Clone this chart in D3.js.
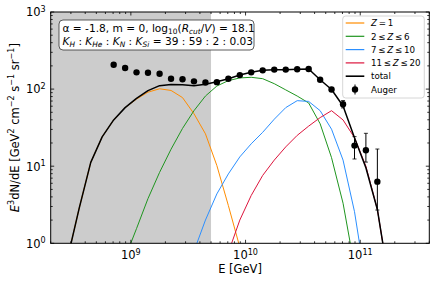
<!DOCTYPE html>
<html>
<head>
<meta charset="utf-8">
<script src="https://cdn.jsdelivr.net/npm/d3@7"></script>
<style>
  body { margin: 0; background: #fff; }
  svg { display: block; font-family: "DejaVu Sans", sans-serif; }
</style>
</head>
<body>
<div id="chart"></div>
<script>
// energy grid (GeV), bin centres at log10(E) = 8.45 ... 11.25
const energies = [2.82e8, 3.55e8, 4.47e8, 5.62e8, 7.08e8, 8.91e8, 1.12e9, 1.41e9, 1.78e9, 2.24e9,
    2.82e9, 3.55e9, 4.47e9, 5.62e9, 7.08e9, 8.91e9, 1.12e10, 1.41e10, 1.78e10, 2.24e10,
    2.82e10, 3.55e10, 4.47e10, 5.62e10, 7.08e10, 8.91e10, 1.12e11, 1.41e11, 1.78e11];

// model components, E^3 dN/dE  (null = not drawn)
const zH = [0.66, 2.88, 11.2, 24.0, 39.8, 57.5, 74.1, 91.2, 101, 96, 77.6, 47.9, 26.3, 10.2, 3.09, 0.89,
    null, null, null, null, null, null, null, null, null, null, null, null, null];
const zHeC = [null, null, null, null, null, 0.65, 1.55, 3.80, 8.32, 16.6, 30.9, 52.5, 81.3, 109.6, 128.8,
    139.6, 142.2, 136.5, 117.5, 97.7, 81.3, 66.1, 35.5, 12.9, 3.31, 0.50, null, null, null];
const zNNe = [null, null, null, null, null, null, null, null, null, null, null, 0.79, 2.0, 4.37, 7.94,
    13.2, 19.5, 27.5, 40.7, 57.5, 70.8, 69.2, 52.5, 30.2, 12.0, 2.57, 0.30, null, null];
const zNaCa = [null, null, null, null, null, null, null, null, null, null, null, null, null, null, 0.76,
    2.0, 4.17, 7.59, 12.0, 17.8, 25.1, 33.1, 42.7, 52.5, 39.8, 23.4, 10.0, 2.75, 0.32];
const total = [0.66, 2.88, 11.2, 24.0, 39.8, 57.5, 75.9, 95.5, 110.9, 114.8, 113.5, 110.9, 115.3, 124.5,
    136.5, 152.4, 165.2, 175.4, 178.6, 178.6, 180.7, 182.4, 132.4, 98.9, 60.3, 23.4, 9.55, 2.75, 0.32];

// Auger data
const augerE = [7.08e8, 8.91e8, 1.12e9, 1.41e9, 1.78e9, 2.24e9, 2.82e9, 3.55e9, 4.47e9, 5.62e9, 7.08e9, 8.91e9,
    1.12e10, 1.41e10, 1.78e10, 2.24e10, 2.82e10, 3.55e10, 4.47e10, 5.62e10, 7.08e10, 8.91e10, 1.12e11, 1.41e11];
const augerFlux = [207, 188, 165, 163, 158, 136, 134, 126, 122, 123, 136, 152, 165, 175, 179, 179, 181, 182,
    132, 99, 63.5, 18.5, 16.1, 6.3];
const augerLo = [203, 184, 162, 160, 155, 133, 131, 123, 119, 120, 133, 149, 162, 171, 175, 175, 177, 177,
    127, 93, 57, 12.4, 11.3, 2.7];
const augerHi = [211, 192, 168, 166, 161, 139, 137, 129, 125, 126, 139, 155, 168, 179, 183, 183, 185, 187,
    137, 105, 71, 24.2, 26.7, 16.7];

const xDomain = [2e8, 4e11];
const yDomain = [1, 1000];
const xMajor = [1e9, 1e10, 1e11];
const yMajor = [1, 10, 100, 1000];
const shadeEnd = 5e9;

const series = [
    { name: "Z = 1", data: zH, color: "#ff8c00", width: 1 },
    { name: "2 ≤ Z ≤ 6", data: zHeC, color: "#1f951f", width: 1 },
    { name: "7 ≤ Z ≤ 10", data: zNNe, color: "#2b8fff", width: 1 },
    { name: "11 ≤ Z ≤ 20", data: zNaCa, color: "#dc143c", width: 1 },
    { name: "total", data: total, color: "#000", width: 1.5 }
];

const W = 436, H = 284;
const margin = { top: 12, right: 6.7, bottom: 40.7, left: 50.7 };
const w = W - margin.left - margin.right;
const h = H - margin.top - margin.bottom;

const svg = d3.select("#chart").append("svg").attr("width", W).attr("height", H);
const g = svg.append("g").attr("transform", `translate(${margin.left},${margin.top})`);

const x = d3.scaleLog().domain(xDomain).range([0, w]);
const y = d3.scaleLog().domain(yDomain).range([h, 0]);

svg.append("defs").append("clipPath").attr("id", "clip")
    .append("rect").attr("width", w).attr("height", h);

// excluded region
g.append("rect")
    .attr("x", 0).attr("y", 0)
    .attr("width", x(shadeEnd)).attr("height", h)
    .attr("fill", "#cccccc");

const plot = g.append("g").attr("clip-path", "url(#clip)");

const line = d3.line()
    .defined(d => d[1] != null)
    .x(d => x(d[0]))
    .y(d => y(d[1]));

series.forEach(s => {
    plot.append("path")
        .datum(energies.map((e, i) => [e, s.data[i]]))
        .attr("fill", "none")
        .attr("stroke", s.color)
        .attr("stroke-width", s.width)
        .attr("stroke-linejoin", "round")
        .attr("d", line);
});

// Auger points
const auger = augerE.map((e, i) => ({ e: e, v: augerFlux[i], lo: augerLo[i], hi: augerHi[i] }));
const pts = plot.append("g");
pts.selectAll("line.err").data(auger).enter().append("line")
    .attr("x1", d => x(d.e)).attr("x2", d => x(d.e))
    .attr("y1", d => y(d.lo)).attr("y2", d => y(d.hi))
    .attr("stroke", "#000").attr("stroke-width", 1);
["lo", "hi"].forEach(k => {
    pts.selectAll("line.cap" + k).data(auger).enter().append("line")
        .attr("x1", d => x(d.e) - 2).attr("x2", d => x(d.e) + 2)
        .attr("y1", d => y(d[k])).attr("y2", d => y(d[k]))
        .attr("stroke", "#000").attr("stroke-width", 0.8);
});
pts.selectAll("circle").data(auger).enter().append("circle")
    .attr("cx", d => x(d.e)).attr("cy", d => y(d.v))
    .attr("r", 3.2).attr("fill", "#000");

// ticks on all four sides, pointing inward
function minorTicks(scale) {
    return scale.ticks().filter(t => {
        const m = t / Math.pow(10, Math.floor(Math.log10(t) + 1e-9));
        return Math.abs(m - 1) > 1e-6;
    });
}
const xMinor = minorTicks(x);
const yMinor = minorTicks(y);
const tk = g.append("g").attr("stroke", "#000").attr("stroke-width", 0.8);
[[xMajor, 3.5], [xMinor, 2]].forEach(([vals, len]) => {
    vals.forEach(v => {
        tk.append("line").attr("x1", x(v)).attr("x2", x(v)).attr("y1", h).attr("y2", h - len);
        tk.append("line").attr("x1", x(v)).attr("x2", x(v)).attr("y1", 0).attr("y2", len);
    });
});
[[yMajor, 3.5], [yMinor, 2]].forEach(([vals, len]) => {
    vals.forEach(v => {
        tk.append("line").attr("y1", y(v)).attr("y2", y(v)).attr("x1", 0).attr("x2", len);
        tk.append("line").attr("y1", y(v)).attr("y2", y(v)).attr("x1", w).attr("x2", w - len);
    });
});

g.append("rect").attr("width", w).attr("height", h)
    .attr("fill", "none").attr("stroke", "#000").attr("stroke-width", 1);

// rich text helper: runs of [text, kind] with kind in n (normal), i (italic), sup, sub, isub (italic sub)
function rich(el, runs, size) {
    let level = 0;
    runs.forEach(([s, kind]) => {
        const want = kind === "sup" ? -0.4 : (kind === "sub" || kind === "isub") ? 0.22 : 0;
        const t = el.append("tspan").text(s);
        if (want !== level) t.attr("dy", ((want - level) * size).toFixed(2));
        level = want;
        if (kind === "sup" || kind === "sub" || kind === "isub") t.attr("font-size", size * 0.7);
        if (kind === "i" || kind === "isub") t.attr("font-style", "italic");
    });
}

// tick labels
const fs = 11.5;
xMajor.forEach(v => {
    const t = g.append("text").attr("x", x(v)).attr("y", h + 16).attr("text-anchor", "middle")
        .attr("font-size", fs).attr("fill", "#000");
    rich(t, [["10", "n"], [String(Math.round(Math.log10(v))), "sup"]], fs);
});
yMajor.forEach(v => {
    const t = g.append("text").attr("x", -5).attr("y", y(v) + 4.3).attr("text-anchor", "end")
        .attr("font-size", fs).attr("fill", "#000");
    rich(t, [["10", "n"], [String(Math.round(Math.log10(v))), "sup"]], fs);
});

// axis titles
svg.append("text").attr("x", margin.left + w / 2).attr("y", 273).attr("text-anchor", "middle")
    .attr("font-size", 11.5).text("E [GeV]");

const yl = svg.append("text")
    .attr("transform", `translate(19,${margin.top + h / 2}) rotate(-90)`)
    .attr("text-anchor", "middle").attr("font-size", 11.5);
rich(yl, [["E", "i"], ["3", "sup"], ["dN/dE [GeV", "n"], ["2", "sup"], [" cm", "n"], ["−2", "sup"],
    [" s", "n"], ["−1", "sup"], [" sr", "n"], ["−1", "sup"], ["]", "n"]], 11.5);

// parameter box
const bx = g.append("g").attr("transform", `translate(${59 - margin.left},${20 - margin.top})`);
bx.append("rect").attr("width", 195).attr("height", 30).attr("rx", 4)
    .attr("fill", "#fff").attr("stroke", "#333").attr("stroke-width", 0.8);
const tfs = 10.6;
const l1 = bx.append("text").attr("x", 3.5).attr("y", 11.5).attr("font-size", tfs);
rich(l1, [["α = -1.8, m = 0, log", "n"], ["10", "sub"], ["(", "n"], ["R", "i"], ["cut", "isub"],
    ["/", "n"], ["V", "i"], [") = 18.1", "n"]], tfs);
const l2 = bx.append("text").attr("x", 3.5).attr("y", 24.5).attr("font-size", tfs);
rich(l2, [["K", "i"], ["H", "isub"], [" : ", "n"], ["K", "i"], ["He", "isub"], [" : ", "n"],
    ["K", "i"], ["N", "isub"], [" : ", "n"], ["K", "i"], ["Si", "isub"], [" = 39 : 59 : 2 : 0.03", "n"]], tfs);

// legend
const lg = svg.append("g").attr("transform", "translate(342.7,16)");
lg.append("rect").attr("width", 81.6).attr("height", 82).attr("rx", 3)
    .attr("fill", "#fff").attr("fill-opacity", 0.85).attr("stroke", "#ccc").attr("stroke-width", 0.8);
const lfs = 8.7;
series.forEach((s, i) => {
    const yy = 7 + i * 13.3;
    lg.append("line").attr("x1", 3).attr("x2", 21.6).attr("y1", yy).attr("y2", yy)
        .attr("stroke", s.color).attr("stroke-width", s.width === 1 ? 1.2 : 1.6);
    const t = lg.append("text").attr("x", 28.3).attr("y", yy + 3.2).attr("font-size", lfs);
    if (s.name === "total") t.text("total");
    else {
        const parts = s.name.split("Z");
        rich(t, [[parts[0].replace(/ /g, "\u2009"), "n"], ["Z", "i"], [parts[1].replace(/ /g, "\u2009"), "n"]], lfs);
    }
});
const ay = 7 + 5 * 13.3;
lg.append("line").attr("x1", 12.3).attr("x2", 12.3).attr("y1", ay - 5).attr("y2", ay + 5).attr("stroke", "#000");
lg.append("circle").attr("cx", 12.3).attr("cy", ay).attr("r", 3.2).attr("fill", "#000");
lg.append("text").attr("x", 28.3).attr("y", ay + 3.2).attr("font-size", lfs).text("Auger");
</script>
</body>
</html>
